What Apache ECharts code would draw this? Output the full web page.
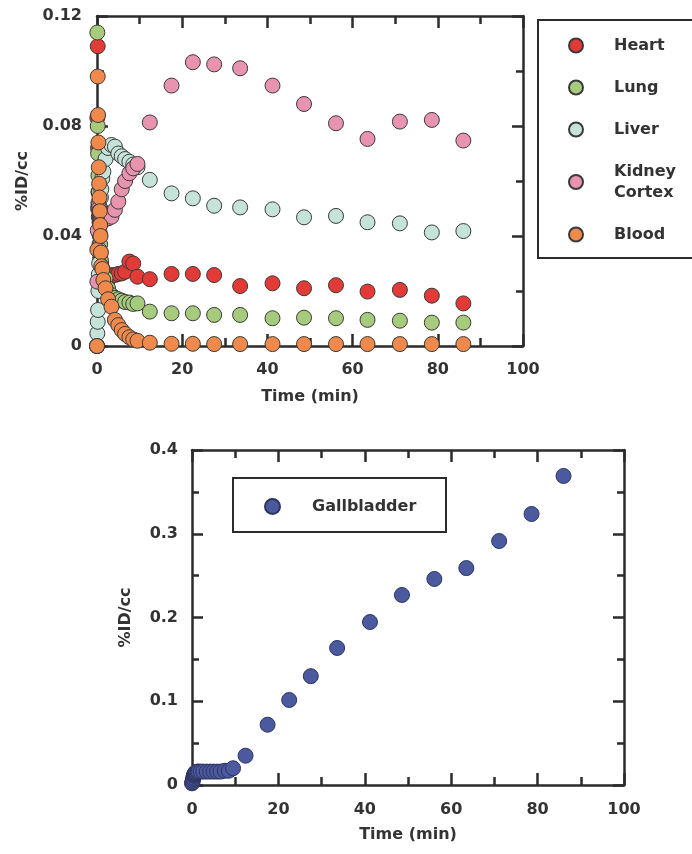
<!DOCTYPE html>
<html>
<head>
<meta charset="utf-8">
<script src="https://cdn.jsdelivr.net/npm/echarts/dist/echarts.min.js"></script>
<style>
html,body{margin:0;padding:0;background:#fff;}
#chart{width:692px;height:854px;}
</style>
</head>
<body>
<div id="chart"></div>
<script>
// ---- data ----
const times = [0, 0.08, 0.17, 0.25, 0.33, 0.42, 0.5, 0.58, 0.67, 0.75, 0.83, 0.92, 1.0,
  1.25, 1.5, 2.0, 2.6, 3.4, 4.2, 5.0, 5.8, 6.6, 7.6, 8.5, 9.5,
  12.4, 17.5, 22.5, 27.5, 33.6, 41.2, 48.6, 56.1, 63.5, 71.1, 78.6, 86.0];

const heart = [0.000, 0.083, 0.109, 0.072, 0.056, 0.047, 0.041, 0.037, 0.034, 0.032, 0.031, 0.030, 0.029,
  0.028, 0.027, 0.026, 0.024, 0.0258, 0.0258, 0.0262, 0.0264, 0.027, 0.0307, 0.030, 0.0252,
  0.0243, 0.0262, 0.0262, 0.0258, 0.0218, 0.0228, 0.0210, 0.0221, 0.0198, 0.0204, 0.0183, 0.0155];

const lung = [0.000, 0.114, 0.080, 0.070, 0.062, 0.056, 0.050, 0.045, 0.041, 0.037, 0.034, 0.031, 0.029,
  0.027, 0.026, 0.0246, 0.021, 0.0185, 0.0175, 0.017, 0.0165, 0.016, 0.0158, 0.0153, 0.0155,
  0.0125, 0.0119, 0.0119, 0.0113, 0.0113, 0.0101, 0.0103, 0.0101, 0.0095, 0.0092, 0.0085, 0.0085];

const liver = [0.000, 0.0046, 0.0088, 0.0131, 0.020, 0.026, 0.030, 0.035, 0.040, 0.045, 0.050, 0.054, 0.057,
  0.061, 0.0634, 0.068, 0.072, 0.0731, 0.0725, 0.070, 0.069, 0.068, 0.067, 0.066, 0.065,
  0.0604, 0.0555, 0.0537, 0.0510, 0.0504, 0.0497, 0.0468, 0.0473, 0.0450, 0.0446, 0.0413, 0.0418];

const kidneyCortex = [0.000, 0.0234, 0.042, 0.050, 0.052, 0.051, 0.050, 0.049, 0.048, 0.047, 0.0465, 0.046, 0.046,
  0.0458, 0.0458, 0.0462, 0.0464, 0.047, 0.0495, 0.0525, 0.057, 0.060, 0.0628, 0.0646, 0.0662,
  0.0813, 0.0947, 0.1032, 0.1024, 0.1010, 0.0947, 0.0880, 0.0810, 0.0753, 0.0816, 0.0822, 0.0747];

const blood = [0.000, 0.035, 0.098, 0.084, 0.074, 0.065, 0.059, 0.054, 0.049, 0.044, 0.040, 0.034, 0.029,
  0.028, 0.024, 0.021, 0.017, 0.0143, 0.0095, 0.0076, 0.0058, 0.0044, 0.0032, 0.0024, 0.0019,
  0.0012, 0.0008, 0.0008, 0.0007, 0.0007, 0.0007, 0.0007, 0.0007, 0.0007, 0.0007, 0.0007, 0.0007];

const gallbladder = [0.002, 0.003, 0.005, 0.007, 0.009, 0.011, 0.012, 0.013, 0.014, 0.014, 0.015, 0.015, 0.015,
  0.016, 0.016, 0.016, 0.016, 0.016, 0.016, 0.016, 0.016, 0.016, 0.017, 0.017, 0.020,
  0.035, 0.072, 0.1015, 0.130, 0.1636, 0.1946, 0.2269, 0.246, 0.259, 0.2913, 0.3236, 0.369];

const topSeriesNames = ['Heart', 'Lung', 'Liver', 'Kidney Cortex', 'Blood'];
const topSeriesData = [heart, lung, liver, kidneyCortex, blood];
const topColors = ['#e23a36', '#a6cb7d', '#c6e3d9', '#e894ae', '#ef8a4c'];
const gbColor = '#4b5a9f';

const xTicks = [0, 20, 40, 60, 80, 100];
const topYTicks = [0, 0.04, 0.08, 0.12];
const botYTicks = [0, 0.1, 0.2, 0.3, 0.4];

// ---- styles ----
const FONT = 'DejaVu Sans';
const AX = '#2b2b2b';
const TXT = '#333333';

function pairs(ys) { return times.map((t, i) => [t, ys[i]]); }

function frameAxis(type, pos, gridIndex, min, max, interval, showLabel, extra) {
  const isX = type === 'x';
  return Object.assign({
    type: 'value', gridIndex, position: pos, min, max, interval,
    axisLine: { show: true, onZero: false, lineStyle: { color: AX, width: 2.5 } },
    axisTick: { show: true, inside: true, length: isX ? 12 : 11, lineStyle: { color: AX, width: 2.5 } },
    minorTick: { show: true, splitNumber: 2, length: isX ? 8 : 7, lineStyle: { color: AX, width: 2.5 } },
    splitLine: { show: false },
    minorSplitLine: { show: false },
    axisLabel: { show: showLabel, color: TXT, fontFamily: FONT, fontWeight: 'bold', fontSize: 16 }
  }, extra || {});
}

const fmtTop = v => v === 0 ? '0' : v.toFixed(2);
const fmtBot = v => v === 0 ? '0' : v.toFixed(1);

const nameStyle = { color: TXT, fontFamily: FONT, fontWeight: 'bold', fontSize: 16 };

const xAxes = [
  frameAxis('x', 'bottom', 0, xTicks[0], xTicks[xTicks.length - 1], 20, true, {
    name: 'Time (min)', nameLocation: 'middle', nameGap: 43, nameTextStyle: nameStyle,
    axisLabel: { show: true, margin: 16, color: TXT, fontFamily: FONT, fontWeight: 'bold', fontSize: 16 }
  }),
  frameAxis('x', 'top', 0, xTicks[0], xTicks[xTicks.length - 1], 20, false),
  frameAxis('x', 'bottom', 1, xTicks[0], xTicks[xTicks.length - 1], 20, true, {
    name: 'Time (min)', nameLocation: 'middle', nameGap: 42, nameTextStyle: nameStyle,
    axisLabel: { show: true, margin: 17, color: TXT, fontFamily: FONT, fontWeight: 'bold', fontSize: 16 }
  }),
  frameAxis('x', 'top', 1, xTicks[0], xTicks[xTicks.length - 1], 20, false)
];

const yAxes = [
  frameAxis('y', 'left', 0, topYTicks[0], topYTicks[topYTicks.length - 1], 0.04, true, {
    name: '%ID/cc', nameLocation: 'middle', nameGap: 66, nameRotate: 90, nameTextStyle: nameStyle,
    axisLabel: { show: true, margin: 15, formatter: fmtTop, color: TXT, fontFamily: FONT, fontWeight: 'bold', fontSize: 16 }
  }),
  frameAxis('y', 'right', 0, topYTicks[0], topYTicks[topYTicks.length - 1], 0.04, false),
  frameAxis('y', 'left', 1, botYTicks[0], botYTicks[botYTicks.length - 1], 0.1, true, {
    name: '%ID/cc', nameLocation: 'middle', nameGap: 58, nameRotate: 90, nameTextStyle: nameStyle,
    axisLabel: { show: true, margin: 14, formatter: fmtBot, color: TXT, fontFamily: FONT, fontWeight: 'bold', fontSize: 16 }
  }),
  frameAxis('y', 'right', 1, botYTicks[0], botYTicks[botYTicks.length - 1], 0.1, false)
];

const series = topSeriesNames.map((n, i) => ({
  name: n, type: 'scatter', xAxisIndex: 0, yAxisIndex: 0,
  data: pairs(topSeriesData[i]), symbol: 'circle', symbolSize: 15, clip: false,
  itemStyle: { color: topColors[i], borderColor: '#3a3a3a', borderWidth: 1, opacity: 1 },
  emphasis: { disabled: true }
}));
series.push({
  name: 'Gallbladder', type: 'scatter', xAxisIndex: 2, yAxisIndex: 2,
  data: pairs(gallbladder), symbol: 'circle', symbolSize: 15, clip: false,
  itemStyle: { color: gbColor, borderColor: '#2e3560', borderWidth: 1, opacity: 1 },
  emphasis: { disabled: true }
});

const legendText = { color: TXT, fontFamily: FONT, fontWeight: 'bold', fontSize: 16, lineHeight: 21 };

const option = {
  animation: false,
  backgroundColor: '#ffffff',
  grid: [
    { left: 97, top: 16, width: 426, height: 330 },
    { left: 192, top: 450, width: 432, height: 335 }
  ],
  xAxis: xAxes,
  yAxis: yAxes,
  legend: [
    {
      data: topSeriesNames, orient: 'vertical', left: 568, top: 35, padding: 0,
      itemGap: 21, itemWidth: 14, itemHeight: 14, icon: 'circle',
      formatter: n => n === 'Kidney Cortex' ? 'Kidney\nCortex' : n,
      textStyle: Object.assign({ padding: [0, 0, 0, 26] }, legendText),
      selectedMode: false
    },
    {
      data: ['Gallbladder'], orient: 'vertical', left: 264, top: 496, padding: 0,
      itemWidth: 15, itemHeight: 15, icon: 'circle',
      textStyle: Object.assign({ padding: [0, 0, 0, 27] }, legendText),
      selectedMode: false
    }
  ],
  graphic: [
    { type: 'rect', shape: { x: 538, y: 20, width: 200, height: 238 }, style: { fill: 'none', stroke: AX, lineWidth: 2 }, z: 1 },
    { type: 'rect', shape: { x: 233, y: 478, width: 213, height: 54 }, style: { fill: 'none', stroke: AX, lineWidth: 2 }, z: 1 }
  ],
  series
};

const chart = echarts.init(document.getElementById('chart'), null, { renderer: 'canvas' });
chart.setOption(option);
</script>
</body>
</html>
